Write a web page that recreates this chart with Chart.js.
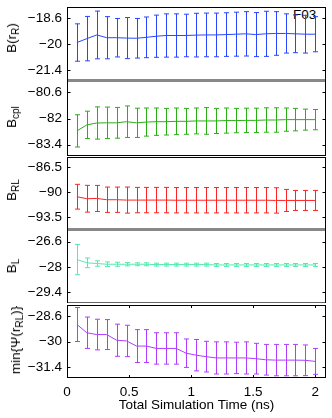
<!DOCTYPE html>
<html>
<head>
<meta charset="utf-8">
<script src="https://cdn.jsdelivr.net/npm/chart.js@4.4.0/dist/chart.umd.min.js"></script>
<style>
  body { margin: 0; background: #fff; }
  #wrap { position: relative; width: 332px; height: 418px; overflow: hidden; font-family: "Liberation Sans", Arial, sans-serif; color: #000; }
  #wrap canvas { position: absolute; left: 0; }
  .ylab { position: absolute; font-size: 13.5px; line-height: 16px; white-space: nowrap; transform: translate(-50%, -50%) rotate(-90deg); }
  .ylab sub { font-size: 10px; vertical-align: -3px; line-height: 0; }
  #tag { position: absolute; left: 293px; top: 7px; font-size: 13.5px; line-height: 16px; }
</style>
</head>
<body>
<div id="wrap">
  <div id="tag">F03</div>
</div>
<script>
// 時間軸 (ns)
const times = [0.08, 0.16, 0.24, 0.32, 0.40, 0.48, 0.56, 0.64, 0.72, 0.80, 0.88, 0.96, 1.04,
               1.12, 1.20, 1.28, 1.36, 1.44, 1.52, 1.60, 1.68, 1.76, 1.84, 1.92, 2.00];
const xTicks = [0, 0.5, 1, 1.5, 2];

// B(r_R)
const bR = [-19.92, -19.71, -19.51, -19.66, -19.66, -19.68, -19.69, -19.64, -19.58, -19.54, -19.54, -19.54, -19.52,
            -19.51, -19.51, -19.49, -19.47, -19.45, -19.49, -19.45, -19.43, -19.43, -19.45, -19.47, -19.47];
const bRErr = [1.01, 1.20, 1.29, 1.14, 1.04, 1.11, 1.07, 1.10, 1.14, 1.17, 1.17, 1.15, 1.18,
               1.18, 1.18, 1.18, 1.19, 1.20, 1.19, 1.22, 1.18, 1.06, 1.02, 1.02, 0.95];
const bRTicks = [-18.6, -20, -21.4];

// B_cpl
const bCpl = [-82.66, -82.34, -82.24, -82.23, -82.23, -82.17, -82.23, -82.19, -82.17, -82.17, -82.15, -82.15, -82.13,
              -82.13, -82.13, -82.11, -82.11, -82.10, -82.10, -82.08, -82.08, -82.06, -82.06, -82.06, -82.06];
const bCplErr = [0.86, 0.73, 0.86, 0.84, 0.82, 0.84, 0.78, 0.75, 0.73, 0.71, 0.71, 0.69, 0.69,
                 0.71, 0.67, 0.67, 0.65, 0.65, 0.65, 0.65, 0.65, 0.62, 0.60, 0.56, 0.54];
const bCplTicks = [-80.6, -82, -83.4];

// B_RL
const bRL = [-90.65, -90.93, -90.89, -91.07, -91.07, -91.12, -91.12, -91.12, -91.12, -91.12, -91.14, -91.14, -91.14,
             -91.14, -91.14, -91.14, -91.14, -91.14, -91.14, -91.14, -91.17, -91.17, -91.17, -91.17, -91.17];
const bRLErr = [1.73, 1.87, 1.82, 1.77, 1.77, 1.82, 1.77, 1.77, 1.77, 1.77, 1.77, 1.77, 1.77,
                1.77, 1.77, 1.77, 1.77, 1.77, 1.77, 1.77, 1.77, 1.54, 1.40, 1.40, 1.40];
const bRLTicks = [-86.5, -90, -93.5];

// B_L
const bL = [-27.59, -27.77, -27.81, -27.85, -27.85, -27.85, -27.85, -27.85, -27.87, -27.87, -27.87, -27.87, -27.87,
            -27.87, -27.89, -27.89, -27.89, -27.89, -27.89, -27.89, -27.89, -27.89, -27.89, -27.89, -27.89];
const bLErr = [0.84, 0.27, 0.15, 0.13, 0.11, 0.09, 0.08, 0.08, 0.08, 0.08, 0.08, 0.08, 0.08,
               0.08, 0.08, 0.08, 0.08, 0.08, 0.08, 0.08, 0.08, 0.08, 0.08, 0.08, 0.08];
const bLTicks = [-26.6, -28, -29.4];

// min{Ψ(r_RL)}
const minPsi = [-29.07, -29.52, -29.62, -29.62, -29.93, -29.97, -30.25, -30.25, -30.38, -30.38, -30.38, -30.64, -30.75,
                -30.83, -30.90, -30.90, -30.90, -30.90, -30.94, -31.00, -31.02, -31.02, -31.02, -31.03, -31.09];
const minPsiErr = [0.93, 0.86, 0.84, 0.82, 0.88, 0.86, 0.90, 0.90, 0.86, 0.86, 0.86, 0.78, 0.86,
                   0.84, 0.88, 0.88, 0.86, 0.88, 0.84, 0.84, 0.86, 0.86, 0.86, 0.84, 0.71];
const minPsiTicks = [-28.6, -30, -31.4];

Chart.defaults.font.family = '"Liberation Sans", Arial, sans-serif';
Chart.defaults.color = '#000';

// パネルの設定 (上から順に)  edges: [上辺の色, 上辺の太さ, 下辺の色, 下辺の太さ]
const panels = [
  { vals: bR, errs: bRErr, ticks: bRTicks, min: -22, max: -18, color: 'rgb(40,70,255)',
    top: 7, bottom: 81, edges: ['#000', 1, '#888', 2], label: 'B(r<sub>R</sub>)', labelX: 12, labelY: 38 },
  { vals: bCpl, errs: bCplErr, ticks: bCplTicks, min: -84, max: -80, color: 'rgb(40,175,20)',
    top: 81, bottom: 156, edges: ['#888', 1, '#000', 1], label: 'B<sub>cpl</sub>', labelX: 12, labelY: 117 },
  { vals: bRL, errs: bRLErr, ticks: bRLTicks, min: -95.3, max: -85.1, color: 'rgb(255,35,35)',
    top: 157, bottom: 230, edges: ['#000', 1, '#888', 2], label: 'B<sub>RL</sub>', labelX: 12, labelY: 190 },
  { vals: bL, errs: bLErr, ticks: bLTicks, min: -30, max: -25.95, color: 'rgb(80,235,175)',
    top: 230, bottom: 303, edges: ['#888', 1, '#666', 1], label: 'B<sub>L</sub>', labelX: 12, labelY: 266 },
  { vals: minPsi, errs: minPsiErr, ticks: minPsiTicks, min: -32, max: -28, color: 'rgb(175,60,255)',
    top: 305, bottom: 378, edges: ['#000', 1, '#000', 1], label: 'min{\u03A8(r<sub>RL</sub>)}', labelX: 16, labelY: 340, last: true }
];

const fmt = v => (v < 0 ? '\u2212' : '') + Math.abs(v);

// 目盛りラベルによる余白を消す
const noPad = s => { s.paddingTop = 0; s.paddingBottom = 0; s.paddingLeft = 0; s.paddingRight = 0; };

// エラーバーを描画
const errorBars = {
  id: 'errorBars',
  afterDatasetsDraw(chart, args, opts) {
    const { ctx, scales: { x, y } } = chart;
    ctx.save();
    ctx.strokeStyle = opts.color;
    ctx.lineWidth = 1;
    times.forEach((t, i) => {
      const px = Math.round(x.getPixelForValue(t)) + 0.5;
      const yt = y.getPixelForValue(opts.vals[i] + opts.errs[i]);
      const yb = y.getPixelForValue(opts.vals[i] - opts.errs[i]);
      ctx.beginPath();
      ctx.moveTo(px, yt); ctx.lineTo(px, yb);
      ctx.moveTo(px - 2.5, yt); ctx.lineTo(px + 2.5, yt);
      ctx.moveTo(px - 2.5, yb); ctx.lineTo(px + 2.5, yb);
      ctx.stroke();
    });
    ctx.restore();
  }
};

// 枠と内向きの目盛り
const frame = {
  id: 'frame',
  afterDraw(chart, args, opts) {
    const { ctx, chartArea: a, scales: { x, y } } = chart;
    const [topC, topW, botC, botW] = opts.edges;
    const T = a.top + topW / 2, B = a.bottom - botW / 2, L = a.left + 0.5, R = a.right - 0.5;
    ctx.save();
    const line = (c, w, x1, y1, x2, y2) => {
      ctx.strokeStyle = c;
      ctx.lineWidth = w;
      ctx.beginPath(); ctx.moveTo(x1, y1); ctx.lineTo(x2, y2); ctx.stroke();
    };
    line(topC, topW, a.left, T, a.right, T);
    line(botC, botW, a.left, B, a.right, B);
    line('#000', 1, L, a.top, L, a.bottom);
    line('#000', 1, R, a.top, R, a.bottom);
    y.ticks.forEach(t => {
      const py = Math.round(y.getPixelForValue(t.value)) + 0.5;
      line('#000', 1, L, py, L + 3, py);
      line('#000', 1, R - 3, py, R, py);
    });
    if (opts.xTicks) {
      x.ticks.forEach(t => {
        const px = Math.round(x.getPixelForValue(t.value)) + 0.5;
        line('#000', 1, px, a.top, px, a.top + 3);
        line('#000', 1, px, a.bottom - 3, px, a.bottom);
      });
    }
    ctx.restore();
  }
};

const wrap = document.getElementById('wrap');

panels.forEach(p => {
  const pad = 3;
  const xAxisH = p.last ? 418 - p.bottom : 0;
  const canvas = document.createElement('canvas');
  canvas.width = 332;
  canvas.height = p.bottom - p.top + pad + (p.last ? xAxisH : pad);
  canvas.style.top = (p.top - pad) + 'px';
  wrap.appendChild(canvas);

  const lab = document.createElement('div');
  lab.className = 'ylab';
  lab.innerHTML = p.label;
  lab.style.left = p.labelX + 'px';
  lab.style.top = p.labelY + 'px';
  wrap.appendChild(lab);

  new Chart(canvas, {
    type: 'line',
    data: {
      datasets: [{
        data: times.map((t, i) => ({ x: t, y: p.vals[i] })),
        borderColor: p.color,
        borderWidth: 1,
        pointRadius: 0,
        tension: 0,
        fill: false
      }]
    },
    options: {
      responsive: false,
      animation: false,
      events: [],
      layout: { padding: { left: 0, right: 6, top: pad, bottom: p.last ? 0 : pad } },
      plugins: {
        legend: { display: false },
        tooltip: { enabled: false },
        errorBars: { vals: p.vals, errs: p.errs, color: p.color },
        frame: { edges: p.edges, xTicks: !!p.last }
      },
      scales: {
        x: {
          type: 'linear',
          display: !!p.last,
          min: 0,
          max: 2.086,
          afterBuildTicks: s => { s.ticks = xTicks.map(v => ({ value: v })); },
          afterFit: s => { s.height = xAxisH; noPad(s); },
          grid: { display: false, drawTicks: false },
          border: { display: false },
          ticks: { padding: 6, font: { size: 13.5 }, maxRotation: 0, autoSkip: false, callback: v => String(v) },
          title: { display: true, text: 'Total Simulation Time (ns)', font: { size: 13.5 }, padding: { top: 0, bottom: 5 } }
        },
        y: {
          min: p.min,
          max: p.max,
          afterBuildTicks: s => { s.ticks = p.ticks.map(v => ({ value: v })); },
          afterFit: s => { s.width = 67; noPad(s); },
          grid: { display: false, drawTicks: false },
          border: { display: false },
          ticks: { padding: 5, font: { size: 13.5 }, callback: fmt }
        }
      }
    },
    plugins: [errorBars, frame]
  });
});
</script>
</body>
</html>
